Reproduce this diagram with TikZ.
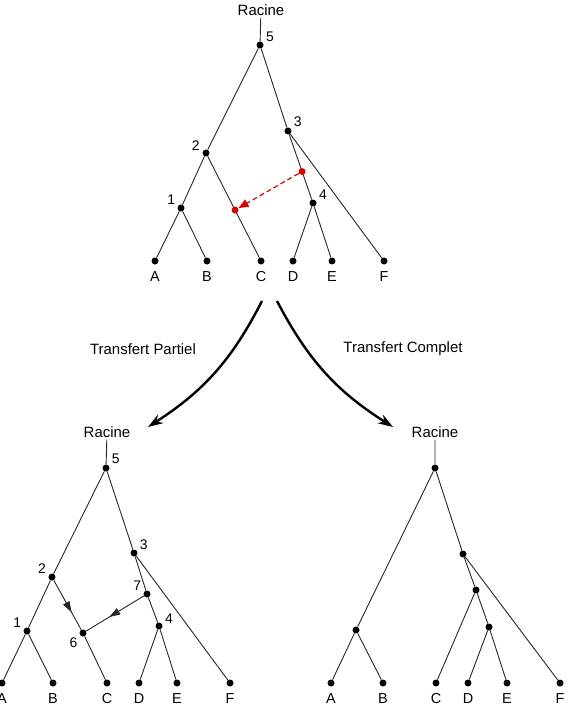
\documentclass[tikz,border=0pt]{standalone}
\usepackage{fontspec}
\setmainfont{Liberation Sans}
\usetikzlibrary{arrows.meta,decorations.markings}
\colorlet{rouge}{red!85!black}

\begin{document}
\begin{tikzpicture}[x=1bp,y=-1bp,
  noeud/.style={circle,fill=black,inner sep=0pt,minimum size=7bp},
  pointrouge/.style={circle,fill=rouge,inner sep=0pt,minimum size=7bp},
  txt/.style={font=\fontsize{15}{18}\selectfont,inner sep=2bp},
  lab/.style={font=\fontsize{14}{16}\selectfont,inner sep=1.5bp,label distance=1bp},
  feuille/.style={font=\fontsize{14.5}{17}\selectfont,inner sep=1.5bp,label distance=5bp},
  branche/.style={black!85,line width=0.9bp},
  milieu/.style={postaction={decorate},decoration={markings,
    mark=at position #1 with {\arrow{Triangle[length=11bp,width=7bp]}}}},
  transfert/.style={-{Stealth[length=15bp,width=10bp]},line width=2.4bp}]
\useasboundingbox (0,0) rectangle (569,710);

% arbre de depart
\node[txt] (hR) at (261,10) {Racine};
\node[noeud,label={[lab]15:5}] (h5) at (260,45) {};
\node[noeud,label={[lab]30:3}] (h3) at (288,131) {};
\node[noeud,label={[lab]168:2}] (h2) at (206,153) {};
\node[noeud,label={[lab]155:1}] (h1) at (181,208) {};
\node[noeud,label={[lab]18:4}] (h4) at (313,203) {};
\foreach \n/\x in {A/155,B/207,C/261,D/293,E/332,F/384}
  \node[noeud,label={[feuille]below:\n}] (h\n) at (\x,261) {};
\draw[branche] (hR) -- (h5) (h5) -- (h2) (h5) -- (h3) (h2) -- (h1)
  (h1) -- (hA) (h1) -- (hB) (h4) -- (hD) (h4) -- (hE) (h3) -- (hF);
\draw[branche] (h3) -- node[pointrouge,pos=.57] (s1) {} (h4);
\draw[branche] (h2) -- node[pointrouge,pos=.53] (s2) {} (hC);
\draw[rouge,line width=1.2bp,dash pattern=on 5bp off 3bp,
  -{Triangle[length=10bp,width=8bp]}] (s1) -- (s2);

% fleches de transfert
\coordinate (dep1) at (262,301);
\coordinate (arr1) at (148,427);
\coordinate (dep2) at (277,301);
\coordinate (arr2) at (393,427);
\draw[transfert] (dep1) to[bend left=15] (arr1);
\draw[transfert] (dep2) to[bend right=15] (arr2);
\node[txt] (tp) at (143,349) {Transfert Partiel};
\node[txt] (tc) at (403,349) {Transfert Complet};

% transfert partiel
\node[txt] (gR) at (107,432) {Racine};
\node[noeud,label={[lab]30:5}] (g5) at (106,468) {};
\node[noeud,label={[lab]25:3}] (g3) at (134,553) {};
\node[noeud,label={[lab]160:2}] (g2) at (52,577) {};
\node[noeud,label={[lab]155:7}] (g7) at (147,594) {};
\node[noeud,label={[lab]15:4}] (g4) at (159,626) {};
\node[noeud,label={[lab]155:1}] (g1) at (27,631) {};
\node[noeud,label={[lab]215:6}] (g6) at (83,633) {};
\foreach \n/\x in {A/2,B/53,C/107,D/139,E/177,F/230}
  \node[noeud,label={[feuille]below:\n}] (g\n) at (\x,683) {};
\draw[branche] (gR) -- (g5) (g5) -- (g2) (g5) -- (g3) (g2) -- (g1)
  (g1) -- (gA) (g1) -- (gB) (g6) -- (gC) (g3) -- (g7) (g7) -- (g4)
  (g4) -- (gD) (g4) -- (gE) (g3) -- (gF);
\draw[branche,milieu=.65] (g2) -- (g6);
\draw[branche,milieu=.6] (g7) -- (g6);

% transfert complet
\node[txt] (dR) at (435,432) {Racine};
\node[noeud] (d5) at (435,468) {};
\node[noeud] (d3) at (463,554) {};
\node[noeud] (d7) at (476,590) {};
\node[noeud] (d4) at (489,627) {};
\node[noeud] (d1) at (356,630) {};
\foreach \n/\x in {A/331,B/383,C/436,D/468,E/507,F/560}
  \node[noeud,label={[feuille]below:\n}] (d\n) at (\x,683) {};
\draw[branche] (dR) -- (d5) (d5) -- (d1) (d5) -- (d3) (d1) -- (dA)
  (d1) -- (dB) (d3) -- (d7) (d3) -- (dF) (d7) -- (dC) (d7) -- (d4)
  (d4) -- (dD) (d4) -- (dE);
\end{tikzpicture}
\end{document}
